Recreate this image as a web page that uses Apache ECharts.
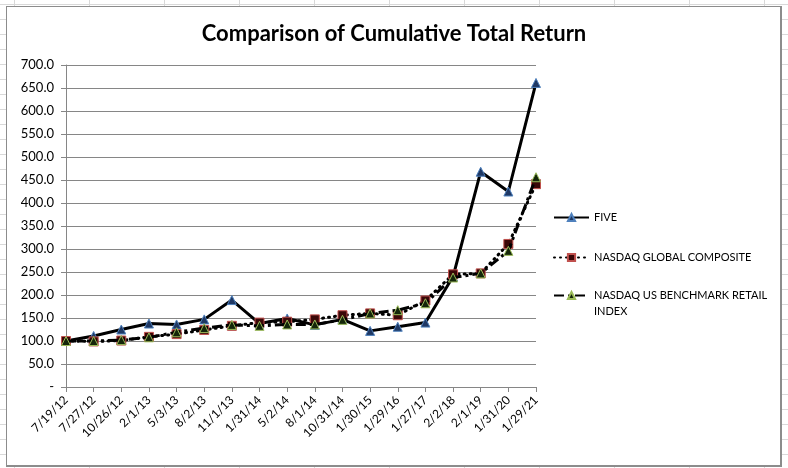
<!DOCTYPE html>
<html>
<head>
<meta charset="utf-8">
<script src="https://cdn.jsdelivr.net/npm/echarts@6/dist/echarts.min.js"></script>
<style>
html,body{margin:0;padding:0;width:788px;height:468px;overflow:hidden;}
body{
  background-color:#fff;
  background-image:
    linear-gradient(to right, #d9d9d9 1px, transparent 1px),
    linear-gradient(to bottom, #d9d9d9 1px, transparent 1px);
  background-size:75px 15px, 75px 15px;
  background-position:14px 0, 0 4px;
}
#frame{position:absolute;left:6px;top:6px;width:773px;height:458px;background:#fff;border:1px solid #8c8c8c;border-right:2px solid #8c8c8c;border-bottom:2px solid #8c8c8c;}
#chart{position:absolute;left:0;top:0;width:788px;height:468px;}
</style>
</head>
<body>
<div id="frame"></div>
<div id="chart"></div>
<script>
var categories = ['7/19/12','7/27/12','10/26/12','2/1/13','5/3/13','8/2/13','11/1/13','1/31/14','5/2/14','8/1/14','10/31/14','1/30/15','1/29/16','1/27/17','2/2/18','2/1/19','1/31/20','1/29/21'];
var fiveValues = [100, 111, 125, 138, 136, 147, 189, 138, 149, 135, 147, 122, 131, 140, 240, 468, 425, 661];
var globalValues = [100, 99, 101, 109, 115, 124, 133, 140, 142, 147, 156, 160, 156, 188, 245, 247, 311, 441];
var retailValues = [100, 100, 102, 108, 119, 128, 135, 133, 136, 136, 146, 160, 167, 182, 238, 247, 296, 456];
var seriesNames = ['FIVE', 'NASDAQ GLOBAL COMPOSITE', 'NASDAQ US BENCHMARK RETAIL INDEX'];
var yTicks = {min: 0, max: 700, step: 50};

var FONT = 'Lato, "Open Sans", sans-serif';
var legendText = {fontFamily: FONT, fontSize: 11, color: '#000'};
var chart = echarts.init(document.getElementById('chart'), null, {renderer:'canvas'});
chart.setOption({
  backgroundColor: 'transparent',
  animation: false,
  title: {
    text: 'Comparison of Cumulative Total Return',
    left: 'center',
    top: 18,
    textStyle: {fontFamily: FONT, fontSize: 22, fontWeight: 'bold', color: '#000'}
  },
  grid: {left: 66, right: 252, top: 65, bottom: 81, containLabel: false},
  legend: [
    {
      orient: 'vertical', left: 553, top: 212, padding: 0,
      itemWidth: 35, itemHeight: 9, itemGap: 29,
      data: [seriesNames[0], seriesNames[1]],
      textStyle: legendText
    },
    {
      orient: 'vertical', left: 553, top: 274, padding: 0,
      itemWidth: 35, itemHeight: 9,
      data: [seriesNames[2]],
      formatter: function () { return '{w|NASDAQ US BENCHMARK RETAIL\nINDEX}'; },
      textStyle: {
        fontFamily: FONT, fontSize: 11, color: '#000',
        rich: {w: {fontFamily: FONT, fontSize: 11, color: '#000', lineHeight: 16, padding: [16, 0, 0, 0]}}
      }
    }
  ],
  xAxis: {
    type: 'category',
    data: categories,
    boundaryGap: false,
    axisLine: {lineStyle: {color: '#868686', width: 1}},
    axisTick: {show: true, alignWithLabel: true, length: 5, lineStyle: {color: '#868686'}},
    axisLabel: {rotate: 45, margin: 11, fontFamily: FONT, fontSize: 12, color: '#000', interval: 0},
    splitLine: {show: false}
  },
  yAxis: {
    type: 'value',
    min: yTicks.min, max: yTicks.max, interval: yTicks.step,
    axisLine: {show: true, lineStyle: {color: '#868686', width: 1}},
    axisTick: {show: true, length: 5, lineStyle: {color: '#868686'}},
    axisLabel: {
      fontFamily: FONT, fontSize: 13, color: '#000', margin: 12,
      formatter: function (v) { return v === 0 ? '-' : v.toFixed(1); }
    },
    splitLine: {show: true, lineStyle: {color: '#868686', width: 1}}
  },
  series: [
    {
      name: seriesNames[0], type: 'line', data: fiveValues,
      symbol: 'triangle', symbolSize: 9,
      lineStyle: {color: '#000', width: 3, type: 'solid'},
      itemStyle: {color: '#1f3864', borderColor: '#4f81bd', borderWidth: 1},
      z: 2
    },
    {
      name: seriesNames[1], type: 'line', data: globalValues,
      symbol: 'rect', symbolSize: 9,
      lineStyle: {color: '#000', width: 3, type: [1, 5], cap: 'round'},
      itemStyle: {color: '#3a0808', borderColor: '#c0504d', borderWidth: 1},
      z: 3
    },
    {
      name: seriesNames[2], type: 'line', data: retailValues,
      symbol: 'triangle', symbolSize: 9,
      lineStyle: {color: '#000', width: 3, type: [10, 4, 3, 4]},
      itemStyle: {color: '#14260a', borderColor: '#9bbb59', borderWidth: 1},
      z: 4
    }
  ]
});
</script>
</body>
</html>
